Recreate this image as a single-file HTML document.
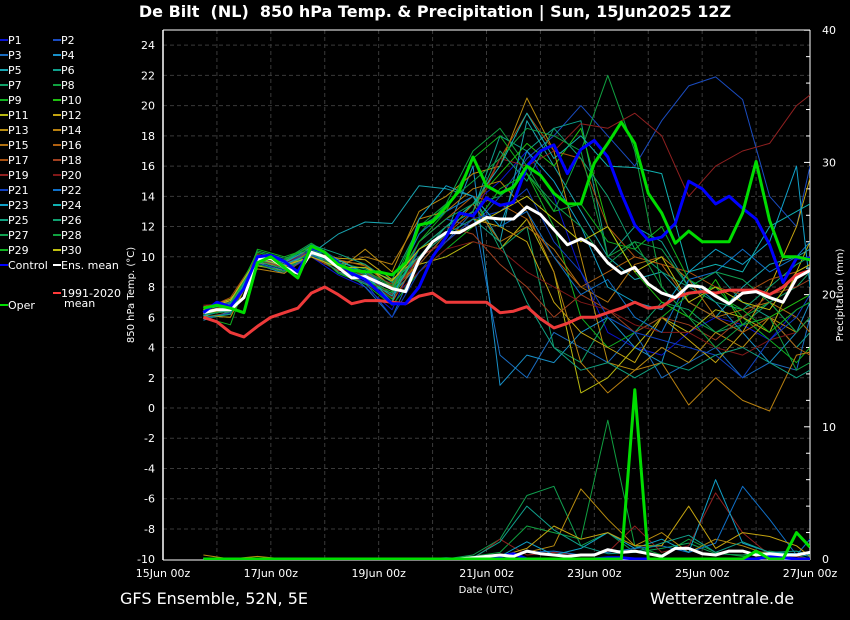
<!DOCTYPE html>
<html><head><meta charset="utf-8"><style>
html,body{margin:0;padding:0;background:#000;}
svg{display:block;font-family:"DejaVu Sans","Liberation Sans",sans-serif;}
text{fill:#fff;}
</style></head><body>
<svg id="chart" width="850" height="620" viewBox="0 0 850 620" xmlns="http://www.w3.org/2000/svg">
<rect width="850" height="620" fill="#000"/>
<text x="435" y="17" text-anchor="middle" font-size="16" font-weight="bold" style="white-space:pre">De Bilt  (NL)  850 hPa Temp. &amp; Precipitation | Sun, 15Jun2025 12Z</text>
<g id="grid"></g>
<g id="axes"></g>
<defs><clipPath id="plotclip"><rect x="163" y="30" width="647" height="530"/></clipPath></defs>
<g id="series" clip-path="url(#plotclip)"></g>
<g id="legend"></g>
<text x="134" y="295" transform="rotate(-90 134 295)" text-anchor="middle" font-size="10">850 hPa Temp. (°C)</text>
<text x="843" y="295" transform="rotate(-90 843 295)" text-anchor="middle" font-size="10">Precipitation (mm)</text>
<text x="486" y="593" text-anchor="middle" font-size="10">Date (UTC)</text>
<text x="120" y="604" font-size="16">GFS Ensemble, 52N, 5E</text>
<text x="650" y="604" font-size="16">Wetterzentrale.de</text>
</svg>
<script>
// ---- data ----
const mainDays = [0.75,1,1.25,1.5,1.75,2,2.25,2.5,2.75,3,3.25,3.5,3.75,4,4.25,4.5,4.75,5,5.25,5.5,5.75,6,6.25,6.5,6.75,7,7.25,7.5,7.75,8,8.25,8.5,8.75,9,9.25,9.5,9.75,10,10.25,10.5,10.75,11,11.25,11.5,11.75,12];
const ensMean = [6.3,6.5,6.5,7.3,9.8,9.9,9.3,8.9,10.3,10.0,9.3,8.6,8.7,8.3,7.9,7.7,9.8,11.0,11.6,11.6,12.1,12.6,12.5,12.5,13.3,12.8,11.8,10.8,11.2,10.7,9.6,8.9,9.3,8.2,7.6,7.3,8.1,8.0,7.4,6.9,7.6,7.7,7.3,7.0,8.6,9.1];
const control = [6.3,7.0,6.7,7.9,10.0,10.1,9.7,9.0,10.6,10.3,9.6,8.9,8.5,7.7,6.9,6.9,8.0,10.0,11.3,12.9,12.7,13.9,13.4,13.6,16.0,17.0,17.4,15.5,17.1,17.7,16.6,14.2,12.1,11.1,11.3,12.2,15.0,14.5,13.5,14.0,13.2,12.5,10.8,8.3,9.9,9.9];
const oper = [6.6,6.8,6.6,6.3,9.6,10.0,9.3,8.6,10.7,10.3,9.5,9.1,9.0,9.0,8.8,9.6,12.1,12.3,13.3,14.4,16.6,14.7,14.2,14.6,16.0,15.4,14.2,13.5,13.5,16.2,17.5,18.9,17.5,14.2,12.9,10.9,11.7,11.0,11.0,11.0,12.9,16.3,12.4,10.0,10.0,9.8];
const climMean = [6.0,5.7,5.0,4.7,5.4,6.0,6.3,6.6,7.6,8.0,7.5,6.9,7.1,7.1,7.0,6.9,7.4,7.6,7.0,7.0,7.0,7.0,6.3,6.4,6.7,5.9,5.3,5.6,6.0,6.0,6.3,6.6,7.0,6.6,6.7,7.3,7.6,7.7,7.6,7.8,7.8,7.8,7.5,8.0,8.8,9.1];
const operPrecip = [0,0,0,0,0,0,0,0,0,0,0,0,0,0,0,0,0,0,0,0,0,0,0,0,0,0,0,0,0,0,0,0,12.8,0,0,0,0,0,0,0,0,0.6,0,0,2.0,0.9];
const meanPrecip = [0,0,0,0,0,0,0,0,0,0,0,0,0,0,0,0,0,0,0,0,0.1,0.2,0.3,0.2,0.6,0.4,0.3,0.2,0.3,0.3,0.7,0.5,0.6,0.4,0.2,0.8,0.8,0.4,0.3,0.6,0.6,0.3,0.4,0.3,0.3,0.5];
const controlPrecip = [0,0,0,0,0,0,0,0,0,0,0,0,0,0,0,0,0,0,0,0,0,0,0.2,0.4,0,0,0,0,0,0,0.1,0.1,0,0,0,0,0,0,0,0,0,0,0.2,0.1,0,0];
const memberDays = [0.75,1.25,1.75,2.25,2.75,3.25,3.75,4.25,4.75,5.25,5.75,6.25,6.75,7.25,7.75,8.25,8.75,9.25,9.75,10.25,10.75,11.25,11.75,12];
const memberNames = ["P1","P2","P3","P4","P5","P6","P7","P8","P9","P10","P11","P12","P13","P14","P15","P16","P17","P18","P19","P20","P21","P22","P23","P24","P25","P26","P27","P28","P29","P30"];
const memberColors = ["#0a14d0","#1a4cc0","#1a6cc0","#1890c8","#18a4b0","#10a08c","#10a068","#10a040","#10b020","#20c010","#b8b810","#c4a410","#b88c10","#b88010","#b07010","#b06010","#a85010","#a04020","#902020","#801818","#1040c0","#1070c8","#10a0c8","#10b0b0","#10a080","#10a070","#10a050","#10a040","#10b020","#c0c010"];
const P1 =[6.2,6.8,9.6,9.0,10.0,8.8,8.0,6.5,10.5,12.0,13.5,15.0,17.0,14.0,9.0,5.0,4.0,3.5,5.0,6.0,5.5,4.5,6.5,7.0];
const P2 =[6.0,7.0,9.9,9.5,10.4,9.0,8.5,7.0,11.0,12.5,12.0,14.0,16.5,18.0,20.0,18.0,16.0,19.0,21.3,21.9,20.4,14.0,12.0,16.0];
const P3 =[6.4,6.6,10.1,9.2,10.0,9.5,8.0,6.0,10.0,11.0,13.0,3.5,2.0,5.0,4.0,3.0,5.0,2.0,3.0,4.0,2.0,3.0,2.5,6.0];
const P4 =[5.8,6.4,9.5,8.9,10.6,9.4,8.8,7.5,9.5,11.5,16.0,1.5,3.5,3.0,5.0,6.0,4.0,3.0,8.5,7.0,5.0,3.0,5.0,7.0];
const P5 =[6.1,6.9,9.8,9.4,10.2,11.5,12.3,12.2,14.7,14.5,14.0,11.0,19.0,16.0,13.0,10.0,8.5,9.0,7.0,6.0,8.0,9.5,10.0,10.5];
const P6 =[6.5,6.3,10.2,9.6,10.8,9.2,8.6,8.0,10.0,12.0,13.0,18.0,17.0,18.5,19.0,10.0,12.0,11.0,8.0,9.0,7.0,6.0,4.0,5.0];
const P7 =[5.9,6.2,9.7,9.3,10.5,9.6,9.2,8.5,12.0,13.0,14.0,10.5,12.0,4.0,3.0,6.0,5.0,7.0,6.5,5.0,5.5,7.0,8.0,9.0];
const P8 =[6.3,6.7,10.3,9.8,10.9,9.8,9.0,8.0,11.5,13.5,17.0,18.5,16.0,13.0,17.0,22.0,17.0,8.0,6.0,5.0,6.0,7.0,5.0,6.0];
const P9 =[6.0,5.5,10.5,10.0,10.6,8.9,8.2,6.8,9.0,10.5,12.0,14.5,15.5,12.0,6.0,4.0,5.0,6.0,7.5,8.0,6.0,4.5,3.0,4.0];
const P10=[6.2,6.5,9.9,9.7,10.4,9.3,8.7,7.2,10.5,12.0,13.5,15.5,17.5,16.0,18.5,12.0,9.0,7.0,6.0,8.5,5.5,6.0,7.0,7.5];
const P11=[6.6,7.2,9.4,9.1,10.1,9.7,9.5,8.0,9.5,10.0,11.0,10.5,12.5,9.0,1.0,2.0,4.0,6.0,5.0,6.5,6.0,5.0,9.0,11.0];
const P12=[6.1,6.0,9.6,9.4,10.3,9.9,9.8,8.5,10.0,11.0,12.5,12.0,11.0,7.0,5.0,4.0,3.0,6.0,4.5,3.0,5.0,8.0,12.0,15.2];
const P13=[6.4,6.8,10.0,9.5,10.0,9.1,10.5,9.0,13.0,14.0,15.5,16.0,20.5,17.0,10.0,3.0,2.5,4.0,3.0,5.0,4.0,6.0,5.0,6.0];
const P14=[6.3,6.5,9.2,8.9,10.2,9.5,10.0,9.5,12.5,13.0,14.5,15.0,13.0,9.0,3.0,1.0,2.5,3.0,0.2,2.0,0.5,-0.2,3.5,3.7];
const P15=[6.7,7.1,10.1,9.7,10.3,9.0,8.3,7.0,10.0,11.5,13.5,11.0,12.0,10.5,8.0,7.0,9.5,10.0,8.5,6.0,6.5,7.0,6.0,5.0];
const P16=[6.0,6.3,9.7,9.2,10.7,9.8,9.4,8.0,11.0,12.5,14.0,13.5,12.5,10.0,8.0,9.0,10.0,9.5,7.0,6.0,5.0,6.0,4.0,3.5];
const P17=[6.5,7.3,10.0,9.5,10.3,9.4,8.9,7.8,9.5,11.5,13.0,16.5,19.5,17.0,16.5,12.0,10.0,9.5,9.0,8.0,7.5,8.5,9.0,9.5];
const P18=[6.2,6.4,9.8,9.3,10.0,9.1,9.0,8.2,10.5,12.0,11.5,9.5,8.0,6.0,7.5,6.5,5.0,6.0,5.5,4.5,6.0,7.5,8.0,8.5];
const P19=[6.8,6.9,10.2,9.6,10.4,9.6,8.7,7.5,10.0,11.0,12.5,16.5,16.0,17.0,18.8,18.5,19.5,18.0,14.0,16.0,17.0,17.5,20.0,20.7];
const P20=[6.4,6.6,9.5,9.0,10.2,9.3,8.5,7.3,9.0,10.5,11.0,10.5,9.0,8.0,7.0,6.5,5.5,5.0,5.0,4.0,3.5,4.5,5.0,6.0];
const P21=[5.9,6.3,9.9,9.4,10.5,9.2,8.3,6.0,9.0,11.0,12.5,13.0,14.5,11.0,9.0,6.0,5.0,4.5,4.0,3.5,2.0,4.5,6.0,7.5];
const P22=[6.3,6.7,9.6,9.1,10.1,9.5,9.0,7.8,11.5,13.0,14.0,12.0,13.0,10.0,7.5,8.5,6.0,5.0,8.5,9.0,10.5,9.0,10.0,11.0];
const P23=[6.1,6.5,10.0,9.6,10.6,9.8,8.9,7.0,12.5,14.7,14.0,12.0,17.0,15.0,12.0,8.0,7.0,6.5,9.0,10.5,9.5,11.0,16.0,8.0];
const P24=[6.5,6.9,9.8,9.5,10.2,9.4,8.6,7.4,10.5,12.0,13.5,16.0,19.5,16.5,18.0,16.0,15.9,15.5,9.0,9.5,9.0,12.0,13.0,13.5];
const P25=[6.0,6.2,10.1,9.7,10.8,10.2,9.5,8.3,10.0,11.5,12.5,11.0,7.0,4.0,2.5,3.0,2.0,3.0,2.5,3.5,4.0,3.0,2.0,2.5];
const P26=[6.6,7.0,9.7,9.2,10.3,9.0,8.2,7.6,10.5,12.0,13.0,17.0,15.0,18.5,16.5,14.0,10.5,9.0,8.0,7.0,6.5,8.0,9.5,10.0];
const P27=[6.2,6.4,10.4,9.9,10.5,9.6,8.8,7.9,11.0,12.5,13.5,14.0,15.5,13.5,12.0,9.5,11.0,10.5,8.0,9.0,8.5,7.0,5.0,6.0];
const P28=[6.4,6.6,9.5,9.0,10.4,9.2,9.1,8.1,12.0,13.5,15.0,16.5,18.5,18.0,17.0,10.0,11.0,8.0,6.0,4.0,5.5,6.0,2.5,3.0];
const P29=[6.3,6.8,10.3,9.8,10.7,9.7,8.4,7.7,11.0,13.0,16.5,18.0,15.5,13.0,13.5,11.0,10.5,12.0,8.5,7.5,6.5,5.0,6.5,7.0];
const P30=[6.5,7.1,9.9,9.4,10.0,9.3,9.3,8.4,10.5,11.5,12.0,13.0,14.0,12.5,11.0,12.0,9.0,10.0,7.0,8.0,7.0,6.5,9.0,9.5];
const memberTemps = [P1,P2,P3,P4,P5,P6,P7,P8,P9,P10,P11,P12,P13,P14,P15,P16,P17,P18,P19,P20,P21,P22,P23,P24,P25,P26,P27,P28,P29,P30];
const precipP8  = [0,0,0,0,0,0,0,0,0,0,0.2,0.5,2.5,2.0,1.5,10.5,1.0,0.3,1.5,0.5,0.2,0.5,0.2,0];
const precipP27 = [0,0,0,0,0,0,0,0,0,0,0.3,1.5,4.8,5.5,1.0,2.0,0.5,0.8,1.2,0.4,0.3,0.6,0.3,0];
const precipP13 = [0.3,0,0.2,0,0,0,0,0,0,0,0,0.2,0.5,1.0,5.3,3.0,1.0,2.0,0.5,1.5,1.0,0.3,0.2,0];
const precipP19 = [0,0,0,0,0,0,0,0,0,0,0,1.5,0.3,0.5,0.3,0.5,2.5,0.5,1.0,5.0,2.0,0.3,0.2,0];
const precipP22 = [0,0,0,0,0,0,0,0,0,0.1,0,0,0.5,0.6,0.3,0.5,0.8,1.0,0.5,1.2,5.5,3.0,0.3,1.5];
const precipP23 = [0,0,0,0,0,0,0,0,0,0,0,0.2,1.3,0.3,0.8,2.0,0.8,1.5,0.5,6.0,1.2,0.5,0.4,0.2];
const precipP12 = [0,0,0,0,0,0,0,0,0,0,0,0.2,0.8,2.5,1.5,2.0,1.0,1.0,4.0,0.8,2.0,1.7,1.0,0.2];
const precipP6  = [0,0,0,0,0,0,0,0,0,0,0.1,1.3,4.0,2.2,1.0,0.4,0.5,1.2,1.8,0.5,1.3,0.5,0.6,0.3];
const precipMembers = [7,26,12,18,21,22,11,5];
const precipSeries = [precipP8,precipP27,precipP13,precipP19,precipP22,precipP23,precipP12,precipP6];
const tempTicks = [-10,-8,-6,-4,-2,0,2,4,6,8,10,12,14,16,18,20,22,24];
const precipTicks = [0,10,20,30,40];
const dateTicks = [0,2,4,6,8,10,12];
const dateLabels = ["15Jun 00z","17Jun 00z","19Jun 00z","21Jun 00z","23Jun 00z","25Jun 00z","27Jun 00z"];

// ---- scales ----
const X0=163, X1=810, Y0=30, Y1=560;
const xS = d => X0 + (d/12)*(X1-X0);
const yT = v => 408 - v*15.12;
const yP = p => 559 - p*13.22;
const NS="http://www.w3.org/2000/svg";
function mk(tag, attrs, parent){const e=document.createElementNS(NS,tag);for(const k in attrs)e.setAttribute(k,attrs[k]);parent.appendChild(e);return e;}
const grid=document.getElementById('grid'), axes=document.getElementById('axes'), series=document.getElementById('series'), legend=document.getElementById('legend');

for(let d=1; d<12; d++){
  const l=mk('line',{x1:xS(d),x2:xS(d),y1:Y0,y2:Y1,stroke:'#3a3a3a','stroke-dasharray':'4,3'},grid);
  
  
}
tempTicks.forEach(v=>{
  if(v===-10) return;
  const l=mk('line',{x1:X0,x2:X1,y1:yT(v),y2:yT(v),stroke:'#3a3a3a','stroke-dasharray':'4,3'},grid);
  
  
  const t=mk('text',{x:155,y:yT(v)+4,'text-anchor':'end','font-size':'11'},axes);
  t.textContent=v;
  
  
});
{const t=mk('text',{x:155,y:yT(-10)+4,'text-anchor':'end','font-size':'11'},axes);t.textContent='-10';

}
mk('line',{x1:X0,x2:X0,y1:Y0,y2:Y1,stroke:'#fff','stroke-width':1.5},axes);
mk('line',{x1:X0,x2:X1,y1:Y1,y2:Y1,stroke:'#fff','stroke-width':1},axes);
mk('line',{x1:X1,x2:X1,y1:Y0,y2:Y1,stroke:'#fff','stroke-width':1},axes);
mk('line',{x1:X0,x2:X1,y1:Y0,y2:Y0,stroke:'#fff','stroke-width':1},axes);
for(let p=0;p<=40;p+=2){mk('line',{x1:X1-(p%10===0?6:4),x2:X1,y1:yP(p),y2:yP(p),stroke:'#fff'},axes);}
precipTicks.forEach(p=>{
  const t=mk('text',{x:822,y:yP(p)+4,'font-size':'11'},axes);t.textContent=p;
  
  
});
dateTicks.forEach((d,i)=>{
  const t=mk('text',{x:xS(d),y:577,'text-anchor':'middle','font-size':'11'},axes);t.textContent=dateLabels[i];
  
  
});

function poly(days, vals, yf, color, w, name){
  const pts=days.map((d,i)=>xS(d).toFixed(1)+','+yf(vals[i]).toFixed(1)).join(' ');
  const p=mk('polyline',{points:pts,fill:'none',stroke:color,'stroke-width':w,'stroke-linejoin':'round'},series);
  
  
  return p;
}
precipSeries.forEach((s,k)=>{ poly(memberDays,s,yP,memberColors[precipMembers[k]],1,'precip-'+memberNames[precipMembers[k]].toLowerCase()); });
memberTemps.forEach((s,k)=>{ poly(memberDays,s,yT,memberColors[k],1,'temp-'+memberNames[k].toLowerCase()); });
poly(mainDays,controlPrecip,yP,'#0000ff',3,'precip-control');
poly(mainDays,meanPrecip,yP,'#ffffff',3,'precip-ens-mean');
poly(mainDays,operPrecip,yP,'#00dd00',3,'precip-oper');
poly(mainDays,climMean,yT,'#ee3a3a',3,'temp-climate-mean');
poly(mainDays,ensMean,yT,'#ffffff',3,'temp-ens-mean');
poly(mainDays,control,yT,'#0000ff',3,'temp-control');
poly(mainDays,oper,yT,'#00dd00',3,'temp-oper');

function legItem(x,y,color,label,name){
  const g=mk('g',{},legend);
  
  
  mk('line',{x1:x,x2:x+8,y1:y-4,y2:y-4,stroke:color,'stroke-width':2},g);
  const t=mk('text',{x:x+8,y:y,'font-size':'11'},g);t.textContent=label;
  return g;
}
memberNames.forEach((n,k)=>{
  const col=k%2, row=Math.floor(k/2);
  legItem(col?53:0, 44+15*row, memberColors[k], n, 'legend-'+n.toLowerCase());
});
legItem(0,269,'#0000ff','Control','legend-control');
legItem(53,269,'#ffffff','Ens. mean','legend-ens-mean');
legItem(53,297,'#ff3a3a','1991-2020','legend-climate-mean');
{const t=mk('text',{x:64,y:307,'font-size':'11'},legend);t.textContent='mean';

}
legItem(0,309,'#00dd00','Oper','legend-oper');
</script>
</body></html>
